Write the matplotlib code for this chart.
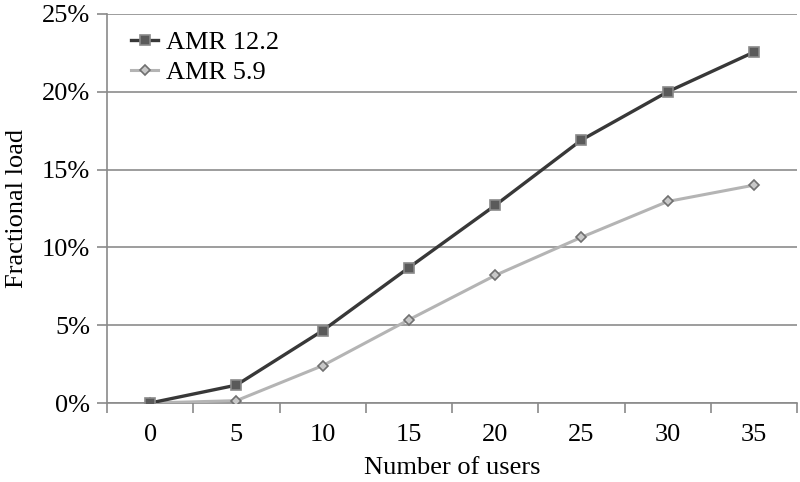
import matplotlib.pyplot as plt
import numpy as np

plt.rcParams["font.family"] = ["Liberation Serif", "DejaVu Serif"]

users = [0, 5, 10, 15, 20, 25, 30, 35]
amr122 = [0.0, 1.15, 4.65, 8.7, 12.7, 16.9, 20.0, 22.55]
amr59 = [0.0, 0.15, 2.4, 5.35, 8.2, 10.65, 12.95, 14.0]
yticks = [0, 5, 10, 15, 20, 25]

fig = plt.figure(figsize=(8.0, 4.82), dpi=100)
ax = fig.add_axes([107 / 800, 1 - 403 / 482, 690 / 800, 389 / 482])

pos = np.arange(len(users))
ax.plot(pos, amr122, "-s", color="#383838", lw=2.4, ms=6.5,
        mfc="#5a5a5a", mec="#8a8a8a", mew=1.2, label="AMR 12.2", zorder=4)
ax.plot(pos, amr59, "-D", color="#b4b4b4", lw=2.2, ms=5,
        mfc="#c8c8c8", mec="#707070", mew=1.2, label="AMR 5.9", zorder=3)

ax.set_xlim(-0.5, len(users) - 0.5)
ax.set_ylim(0, 25)
ax.set_yticks(yticks)
ax.set_yticklabels([f"{v}%" for v in yticks])
ax.set_xticks(pos)
ax.set_xticklabels([str(u) for u in users])
ax.set_xticks(np.arange(len(users) + 1) - 0.5, minor=True)
ax.tick_params(axis="x", which="major", length=0, pad=15, labelsize=19)
ax.tick_params(axis="x", which="minor", length=7, width=1.2, color="#8a8a8a")
ax.tick_params(axis="y", length=7, width=1.2, color="#8a8a8a", pad=5, labelsize=19)

for v in yticks:
    ax.axhline(v, color="#8c8c8c", lw=1.2, zorder=1)
for s in ["top", "right"]:
    ax.spines[s].set_visible(False)
ax.spines["left"].set_color("#8a8a8a")
ax.spines["left"].set_linewidth(1.2)
ax.spines["bottom"].set_color("#8a8a8a")
ax.spines["bottom"].set_linewidth(1.2)

ax.set_xlabel("Number of users", fontsize=19, labelpad=8)
ax.set_ylabel("Fractional load", fontsize=19, labelpad=10)

ax.legend(loc="upper left", frameon=False, fontsize=19, handlelength=1.0,
          handletextpad=0.3, labelspacing=0.25, borderaxespad=0.0,
          bbox_to_anchor=(0.02, 0.985))

fig.savefig("out.png", dpi=100)
